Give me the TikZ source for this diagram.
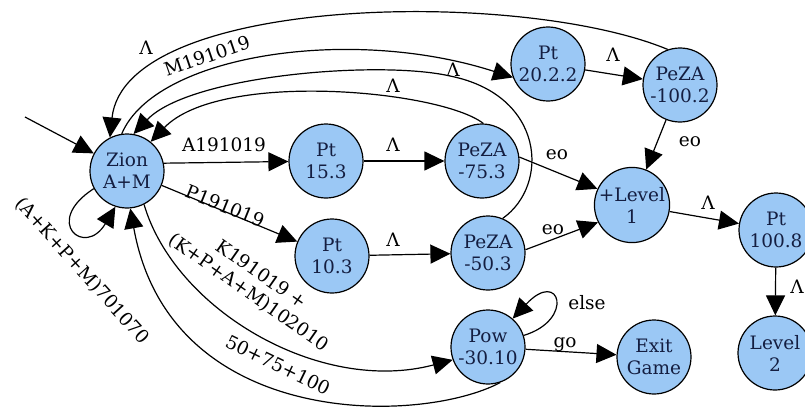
\documentclass[tikz,border=0pt]{standalone}
\usepackage{fontspec}
\setmainfont{DejaVu Serif}
\usepackage{tikz}
\usetikzlibrary{arrows.meta}

\definecolor{statefill}{RGB}{155,200,245}
\definecolor{statetext}{RGB}{20,30,65}

\begin{document}
\begin{tikzpicture}[x=1pt, y=-1pt, font=\fontsize{18.5}{22}\selectfont,
    state/.style={circle, draw, line width=1.2pt, fill=statefill, text=statetext,
      minimum size=74pt, inner sep=0pt, align=center},
    trans/.style={-{Triangle[length=20pt,width=19pt]}, line width=1.2pt},
    lbl/.style={inner sep=1pt}]
  \useasboundingbox (0,0) rectangle (805,412);

  % states
  \node[state] (zion)  at (127,171) {Zion\\A+M};
  \node[state] (pta)   at (326,161) {Pt\\15.3};
  \node[state] (pezaa) at (482,161) {PeZA\\-75.3};
  \node[state] (ptb)   at (332,256) {Pt\\10.3};
  \node[state] (pezab) at (488,253) {PeZA\\-50.3};
  \node[state] (ptc)   at (548,64)  {Pt\\20.2.2};
  \node[state] (pezac) at (680,85)  {PeZA\\-100.2};
  \node[state] (lvla)  at (632,205) {+Level\\1};
  \node[state] (ptd)   at (776,230) {Pt\\100.8};
  \node[state] (lvlb)  at (775,353) {Level\\2};
  \node[state] (pow)   at (488,347) {Pow\\-30.10};
  \node[state] (exit)  at (654,357) {Exit\\Game};

  % start arrow
  \coordinate (init) at (25,117);
  \draw[trans] (init) -- (zion);

  % straight transitions
  \draw[trans] (zion.12) -- (pta);
  \draw[trans] (zion) -- (ptb);
  \draw[trans] (pta) -- (pezaa);
  \draw[trans] (ptb) -- (pezab);
  \draw[trans] (pezaa.6) -- (lvla.155);
  \draw[trans] (pezab.5) -- (lvla.207);
  \draw[trans] (ptc) -- (pezac);
  \draw[trans] (pezac) -- (lvla);
  \draw[trans] (lvla) -- (ptd);
  \draw[trans] (ptd) -- (lvlb);
  \draw[trans] (pow) -- (exit);

  % back edges over the top
  \draw[trans] (pezac.109) .. controls (520,-12) and (125,-5) .. (zion.117);
  \draw[trans] (zion.98) .. controls (155,55) and (350,25) .. (ptc.201);
  \draw[trans] (pezab.67) .. controls (550,185) and (545,95) .. (450,76)
    .. controls (380,60) and (190,75) .. (zion.80);
  \draw[trans] (pezaa.88) .. controls (440,90) and (220,70) .. (zion.51);

  % loops and edges below
  \draw[trans] (zion.208) .. controls (42,222) and (85,258) .. (zion.252);
  \draw[trans] (zion.297) .. controls (175,310) and (320,395) .. (pow.200);
  \draw[trans] (pow.289) .. controls (420,425) and (170,430) .. (zion.275);
  \draw[trans] (pow.18) .. controls (575,320) and (560,268) .. (pow.49);

  % labels
  \node[lbl] (la1) at (146,48) {Λ};
  \node[lbl, rotate=19] (lm) at (207,56) {M191019};
  \node[lbl] (la2) at (453,70) {Λ};
  \node[lbl] (la3) at (393,86) {Λ};
  \node[lbl] (lA) at (224,145) {A191019};
  \node[lbl] (la4) at (393,145) {Λ};
  \node[lbl] (leo1) at (557,155) {eo};
  \node[lbl] (la5) at (613,55) {Λ};
  \node[lbl] (leo2) at (690,142) {eo};
  \node[lbl, rotate=-22] (lP) at (225,206) {P191019};
  \node[lbl] (la6) at (393,240) {Λ};
  \node[lbl] (leo3) at (553,230) {eo};
  \node[lbl] (la7) at (708,203) {Λ};
  \node[lbl] (la8) at (797,287) {Λ};
  \node[lbl] (lelse) at (587,303) {else};
  \node[lbl] (lgo) at (565,345) {go};
  \node[lbl, rotate=-48] (lloop) at (82,271) {(A+K+P+M)701070};
  \node[lbl, rotate=-35, align=center] (lK) at (255,284) {K191019 +\\(K+P+A+M)102010};
  \node[lbl, rotate=-26] (lsum) at (278,365) {50+75+100};
\end{tikzpicture}
\end{document}
